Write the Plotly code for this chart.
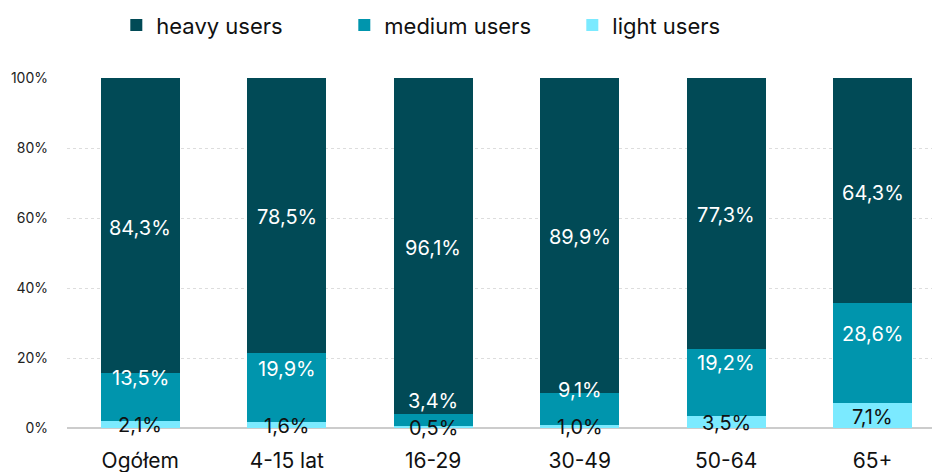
import plotly.graph_objects as go

categories = ["Ogółem", "4-15 lat", "16-29", "30-49", "50-64", "65+"]
heavy = [84.3, 78.5, 96.1, 89.9, 77.3, 64.3]
medium = [13.5, 19.9, 3.4, 9.1, 19.2, 28.6]
light = [2.1, 1.6, 0.5, 1.0, 3.5, 7.1]
y_ticks = [0, 20, 40, 60, 80, 100]
y_tick_labels = [f"{v}%" for v in y_ticks]

C_HEAVY = "#014a56"
C_MED = "#0095ad"
C_LIGHT = "#7beaff"
FONT = "Inter"

def fmt(v):
    return f"{v:.1f}".replace(".", ",") + "%"

fig = go.Figure()
fig.add_bar(x=categories, y=light, name="light users", marker_color=C_LIGHT,
            marker_line_width=0, width=0.54)
fig.add_bar(x=categories, y=medium, name="medium users", marker_color=C_MED,
            marker_line_width=0, width=0.54)
fig.add_bar(x=categories, y=heavy, name="heavy users", marker_color=C_HEAVY,
            marker_line_width=0, width=0.54)

annotations = []
for i, c in enumerate(categories):
    l, m, h = light[i], medium[i], heavy[i]
    annotations.append(dict(x=c, y=l / 2, text=fmt(l), showarrow=False,
                            font=dict(color="#111111", size=20, family=FONT), yshift=-1))
    annotations.append(dict(x=c, y=l + m / 2, text=fmt(m), showarrow=False,
                            font=dict(color="white", size=20, family=FONT), yshift=19))
    annotations.append(dict(x=c, y=l + m + h / 2, text=fmt(h), showarrow=False,
                            font=dict(color="white", size=20, family=FONT), yshift=-2))

fig.update_layout(
    barmode="stack",
    width=932, height=472,
    margin=dict(l=67, r=0, t=78, b=44, autoexpand=False),
    plot_bgcolor="white", paper_bgcolor="white",
    font=dict(family=FONT, color="#111111"),
    showlegend=True,
    legend=dict(orientation="h", x=0.057, xanchor="left", y=1.151, yanchor="middle",
                traceorder="reversed", entrywidth=183, font=dict(size=22),
                itemclick=False),
    annotations=annotations,
)
fig.update_xaxes(range=[-0.5, 5.405], showgrid=False, showline=False, zeroline=False,
                 ticks="", tickfont=dict(size=21, color="#111111"), ticklabelstandoff=18,
                 automargin=False)
fig.update_yaxes(range=[0, 100], tickmode="array", tickvals=y_ticks, ticktext=y_tick_labels,
                 showgrid=True, gridcolor="#dddddd", griddash="dot", gridwidth=1,
                 zeroline=True, zerolinecolor="#cccccc", zerolinewidth=2,
                 showline=False, ticks="", tickfont=dict(size=14, color="#222222"),
                 ticklabelstandoff=18, automargin=False)

fig.write_html("out.html", config={"displayModeBar": False},
               post_script="document.body.style.margin='0';")
